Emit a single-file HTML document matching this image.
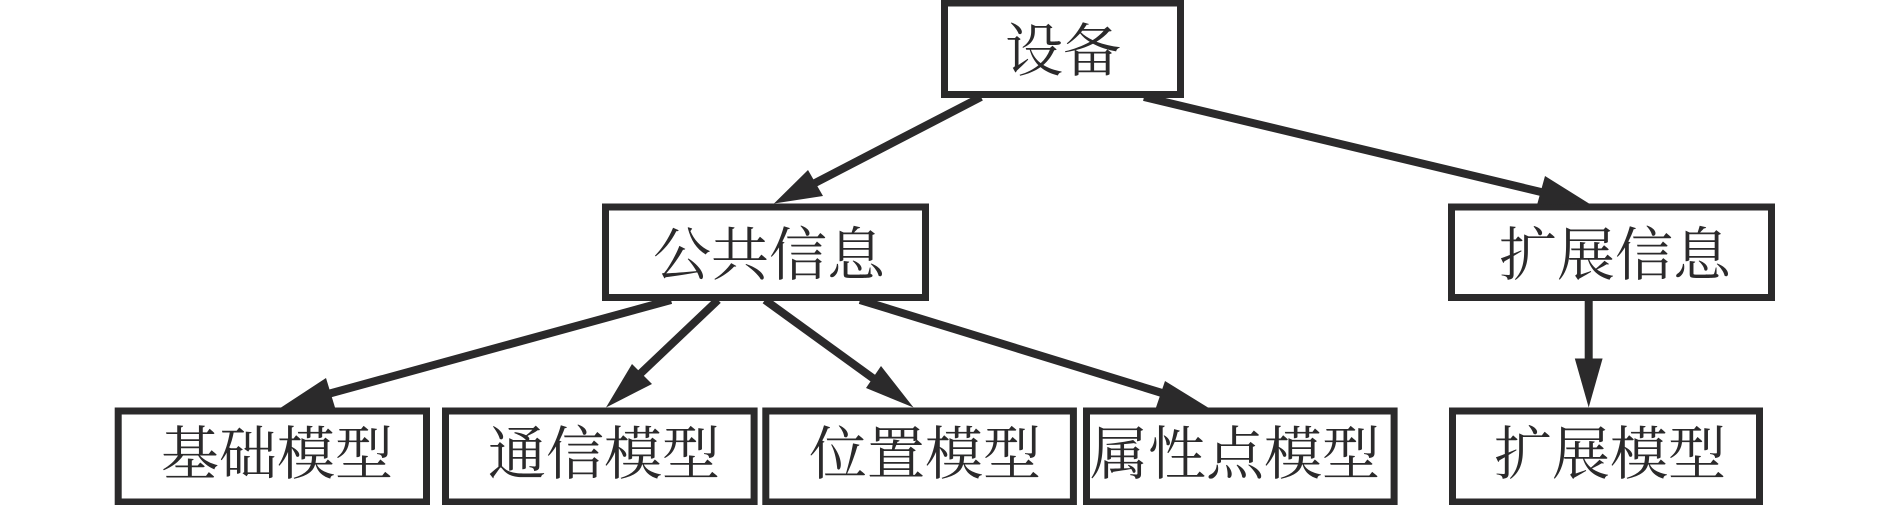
<!DOCTYPE html>
<html lang="zh">
<head>
<meta charset="utf-8">
<title>设备</title>
<style>
html,body{margin:0;padding:0;background:#fff;width:1890px;height:505px;overflow:hidden}
svg{display:block}
text{font-family:"Liberation Serif","Noto Serif CJK SC",serif;font-size:58px;fill:#2b2a2b;text-anchor:middle}
</style>
</head>
<body>
<svg width="1890" height="505" viewBox="0 0 1890 505" xmlns="http://www.w3.org/2000/svg">
<rect width="1890" height="505" fill="#fff"/>
<g fill="none" stroke="#2b2a2b" stroke-width="7">
<rect x="944.5" y="3" width="236" height="91.5"/>
<rect x="605.5" y="207" width="320" height="90.5"/>
<rect x="1451.5" y="207" width="320" height="90.5"/>
<rect x="118.2" y="411" width="308.3" height="91"/>
<rect x="445.5" y="411" width="308.6" height="91"/>
<rect x="765.8" y="411" width="307.6" height="91"/>
<rect x="1086.5" y="411" width="307.6" height="91"/>
<rect x="1452.5" y="411" width="307" height="91"/>
</g>
<g stroke="#2b2a2b" stroke-width="8" fill="none">
<line x1="981" y1="97" x2="815" y2="183"/>
<line x1="1144" y1="97" x2="1541" y2="192"/>
<line x1="671" y1="300" x2="328" y2="394"/>
<line x1="718" y1="300" x2="640" y2="374"/>
<line x1="765" y1="300" x2="874" y2="379"/>
<line x1="860" y1="300" x2="1162" y2="393"/>
<line x1="1588.7" y1="300" x2="1588.7" y2="365"/>
</g>
<g fill="#2b2a2b">
<polygon points="774,203.5 808,170 823,196"/>
<polygon points="1589,203.5 1545,176 1537,205"/>
<polygon points="281,407.5 326,378 335,407.5"/>
<polygon points="606,407.5 632,364 652,384"/>
<polygon points="913.5,407.5 866,388 881,366"/>
<polygon points="1208,407.5 1156,407.5 1165,381"/>
<polygon points="1588.7,407.5 1574.8,358.5 1602.6,358.5"/>
</g>
<text x="1063" y="71">设备</text>
<text x="769" y="275">公共信息</text>
<text x="1615" y="275">扩展信息</text>
<text x="277" y="474">基础模型</text>
<text x="604" y="474">通信模型</text>
<text x="925" y="474">位置模型</text>
<text x="1235" y="474">属性点模型</text>
<text x="1610" y="474">扩展模型</text>
</svg>
</body>
</html>
